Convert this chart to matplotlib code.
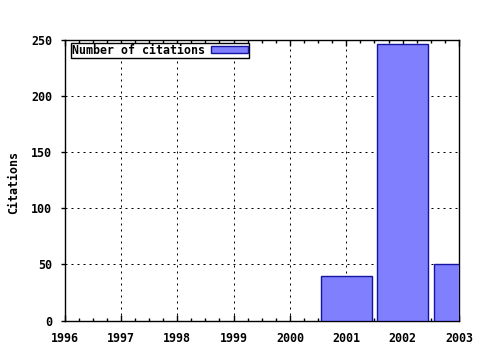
import matplotlib
matplotlib.use("Agg")
import matplotlib.pyplot as plt
from matplotlib.ticker import MultipleLocator

years = [2001, 2002, 2003]
citations = [40, 246, 50]
xticks = [1996, 1997, 1998, 1999, 2000, 2001, 2002, 2003]
yticks = [0, 50, 100, 150, 200, 250]

FAM = "DejaVu Sans Mono"
FS = 8.4

fig = plt.figure(figsize=(4.8, 3.5), dpi=100)
ax = fig.add_axes([64.5/480, 1-320.5/350, (459-64.5)/480, (320.5-40)/350])
ax.bar(years, citations, width=0.9, color="#8080ff", edgecolor="#1414a0", linewidth=1.0,
       label="Number of citations", zorder=3)
ax.set_xlim(1996, 2003)
ax.set_ylim(0, 250)
ax.set_xticks(xticks)
ax.set_yticks(yticks)
ax.xaxis.set_minor_locator(MultipleLocator(0.25))
ax.tick_params(axis="x", which="both", direction="in", top=True, bottom=True, pad=8)
ax.tick_params(axis="x", which="major", length=4, width=1)
ax.tick_params(axis="x", which="minor", length=2, width=1)
ax.tick_params(axis="y", which="major", direction="out", length=3, width=1, left=True, right=False, pad=6)
ax.grid(True, which="major", linestyle=(0, (2, 4)), color="black", linewidth=0.72, zorder=1)
ax.set_axisbelow(True)
for lbl in ax.get_xticklabels() + ax.get_yticklabels():
    lbl.set_fontfamily(FAM); lbl.set_fontweight("bold"); lbl.set_fontsize(FS)
fig.text(14/480, 1-182.5/350, "Citations", family=FAM, weight="bold", size=FS,
         rotation=90, ha="center", va="center")
for s in ax.spines.values():
    s.set_linewidth(1.0)
leg = ax.legend(loc="upper left", bbox_to_anchor=(70.5/480, 1-42.5/350), bbox_transform=fig.transFigure,
                prop=dict(family=FAM, weight="bold", size=FS),
                frameon=True, fancybox=False, edgecolor="black", framealpha=1,
                borderpad=0.12, handlelength=3.2, handleheight=0.6, handletextpad=0.5,
                markerfirst=False, borderaxespad=0)
leg.get_frame().set_linewidth(1.0)
fig.savefig("out.png", dpi=100)
